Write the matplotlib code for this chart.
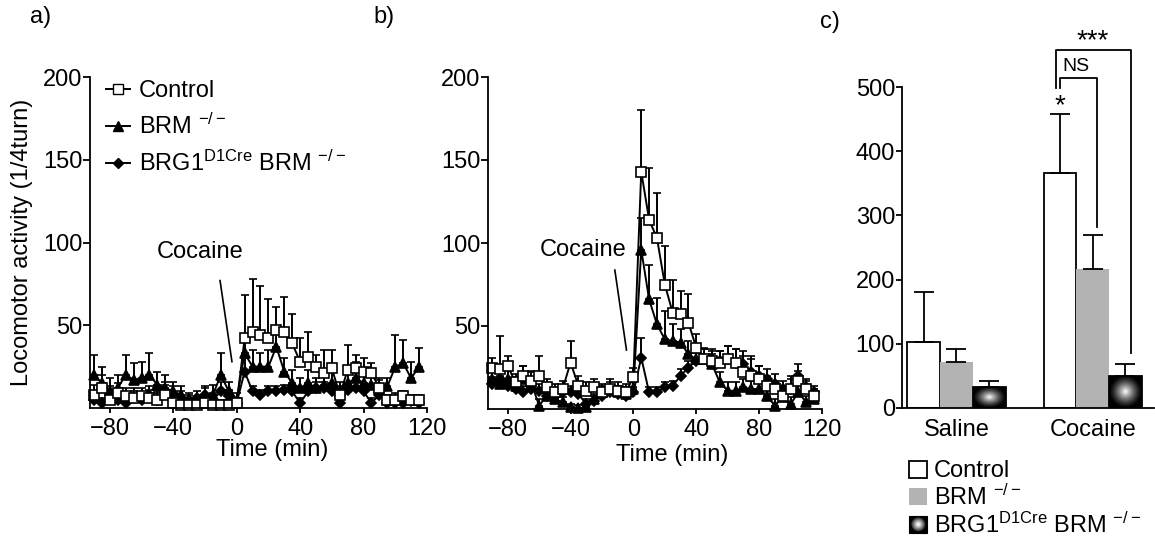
import numpy as np
import matplotlib.pyplot as plt
from matplotlib.patches import Rectangle, Circle, Patch
from matplotlib.legend_handler import HandlerBase
from matplotlib.lines import Line2D

plt.rcParams['font.family'] = ['Liberation Sans', 'DejaVu Sans']
plt.rcParams['mathtext.fontset'] = 'custom'
plt.rcParams['mathtext.rm'] = 'Liberation Sans'
plt.rcParams['font.size'] = 17
plt.rcParams['axes.linewidth'] = 1.3

# time bins (min)
times = [-90, -85, -80, -75, -70, -65, -60, -55, -50, -45, -40, -35, -30, -25,
         -20, -15, -10, -5, 0, 5, 10, 15, 20, 25, 30, 35, 40, 45, 50, 55, 60,
         65, 70, 75, 80, 85, 90, 95, 100, 105, 110, 115]

# panel a: saline
ctrl_a = [8, 12, 5, 9, 7, 6, 7, 6, 5, 8, 3, 2, 2, 2, 3, 2, 2, 2, 3,
          42, 46, 44, 42, 47, 46, 39, 28, 31, 25, 21, 24, 8, 23, 24, 22, 21, 12, 5, 5, 7, 5, 5]
ctrl_a_err = [6, 8, 5, 6, 5, 6, 5, 5, 5, 6, 4, 3, 3, 3, 3, 3, 3, 3, 3,
              26, 32, 30, 24, 14, 21, 18, 14, 15, 7, 14, 11, 5, 15, 8, 8, 6, 5, 3, 4, 3, 3, 3]
brm_a = [20, 15, 10, 12, 20, 17, 18, 20, 14, 12, 10, 8, 4, 3, 6, 8, 20, 10, 5,
         33, 25, 25, 25, 37, 22, 15, 12, 15, 12, 14, 15, 10, 15, 18, 15, 14, 12, 13, 25, 27, 18, 25]
brm_a_err = [12, 10, 8, 8, 12, 10, 10, 13, 8, 8, 6, 5, 4, 4, 6, 6, 13, 6, 4,
             12, 10, 8, 10, 8, 8, 8, 6, 8, 6, 8, 7, 6, 8, 10, 8, 8, 6, 5, 19, 14, 10, 11]
brg_a = [5, 3, 8, 5, 3, 6, 5, 8, 5, 10, 8, 6, 5, 6, 8, 5, 10, 7, 3,
         22, 10, 8, 10, 10, 11, 10, 3, 10, 12, 12, 10, 3, 11, 12, 10, 3, 8, 3, 3, 3, 4, 3]
brg_a_err = [4, 3, 5, 4, 3, 4, 4, 5, 4, 6, 5, 4, 4, 4, 5, 4, 6, 4, 3,
             8, 3, 3, 3, 3, 3, 3, 3, 3, 4, 4, 3, 3, 4, 4, 3, 3, 4, 2, 2, 2, 2, 2]

# panel b: cocaine
ctrl_b = [25, 24, 26, 16, 20, 17, 20, 13, 10, 12, 28, 14, 11, 13, 10, 12, 11, 10, 19,
          143, 114, 103, 75, 58, 57, 52, 37, 30, 29, 28, 30, 28, 22, 20, 18, 14, 12, 8, 12, 17, 12, 8]
ctrl_b_err = [6, 20, 6, 5, 6, 6, 12, 5, 5, 5, 13, 6, 5, 5, 5, 6, 5, 5, 6,
              37, 31, 27, 23, 20, 14, 17, 8, 6, 6, 7, 8, 8, 10, 12, 8, 6, 5, 5, 8, 6, 5, 4]
brm_b = [18, 15, 18, 14, 18, 16, 2, 8, 6, 4, 1, 0.5, 1, 6, 10, 12, 10, 9, 12,
         96, 66, 51, 42, 41, 40, 33, 30, 30, 27, 16, 11, 11, 13, 12, 12, 8, 2, 7, 3, 10, 4, 6]
brm_b_err = [6, 5, 6, 5, 8, 6, 4, 4, 4, 3, 2, 2, 2, 3, 4, 4, 4, 4, 5,
             19, 21, 16, 17, 10, 8, 8, 8, 6, 6, 6, 5, 5, 5, 5, 6, 5, 4, 4, 4, 6, 4, 3]
brg_b = [15, 18, 14, 12, 10, 12, 11, 8, 8, 10, 10, 9, 3, 5, 8, 10, 9, 8, 10,
         31, 10, 10, 13, 14, 20, 25, 29, 31, 30, 29, 30, 28, 27, 22, 20, 18, 15, 12, 12, 20, 13, 10]
brg_b_err = [4, 4, 4, 4, 4, 4, 4, 3, 3, 4, 4, 3, 3, 3, 4, 4, 4, 3, 3,
             12, 3, 3, 3, 3, 4, 4, 5, 6, 6, 6, 8, 8, 8, 8, 6, 6, 6, 5, 6, 7, 5, 4]

# panel c: total activity
groups = ['Saline', 'Cocaine']
ctrl_c = [103, 366]
ctrl_c_err = [77, 92]
brm_c = [72, 217]
brm_c_err = [20, 53]
brg_c = [33, 50]
brg_c_err = [9, 18]

labels = ['Control', r'BRM $\mathregular{^{-/-}}$',
          r'BRG1$\mathregular{^{D1Cre}}$ BRM $\mathregular{^{-/-}}$']

W, H = 1155, 543
fig = plt.figure(figsize=(W / 100, H / 100), dpi=100)


def px_axes(x0, y0, x1, y1):
    return fig.add_axes([x0 / W, 1 - y1 / H, (x1 - x0) / W, (y1 - y0) / H])


def time_panel(ax, ctrl, ctrl_err, brm, brm_err, brg, brg_err):
    zeros = np.zeros(len(times))
    series = [(brg, brg_err, 'D', 'black', 5.5),
              (brm, brm_err, '^', 'black', 7),
              (ctrl, ctrl_err, 's', 'white', 6.5)]
    for vals, err, m, fc, ms in series:
        ax.errorbar(times, vals, yerr=[zeros, err], fmt='-', marker=m, color='black',
                    mfc=fc, mec='black', ms=ms, mew=1.2, lw=1.4, elinewidth=1.4,
                    capsize=2.8, capthick=1.4, clip_on=False)
    ax.set_xlim(-92.5, 120)
    ax.set_ylim(0, 200)
    ax.set_xticks([-80, -40, 0, 40, 80, 120])
    ax.set_yticks([50, 100, 150, 200])
    for s in ['top', 'right']:
        ax.spines[s].set_visible(False)
    ax.tick_params(axis='y', length=5, width=1.3, pad=0.5)
    ax.tick_params(axis='x', length=3.5, width=1.3, pad=4)
    ax.set_xlabel('Time (min)')


# panel a
ax_a = px_axes(90, 77, 427, 408)
time_panel(ax_a, ctrl_a, ctrl_a_err, brm_a, brm_a_err, brg_a, brg_a_err)
ax_a.xaxis.set_label_coords(0.54, -0.095)
ax_a.set_ylabel('Locomotor activity (1/4turn)')
ax_a.yaxis.set_label_coords(-0.17, 0.5)
ax_a.text(-23, 94, 'Cocaine', ha='center', va='center')
ax_a.plot([-10.5, -3], [77, 28], color='black', lw=1.2)
handles = [Line2D([], [], color='black', lw=1.4, marker='s', mfc='white', mec='black', ms=6.5),
           Line2D([], [], color='black', lw=1.4, marker='^', mfc='black', ms=7),
           Line2D([], [], color='black', lw=1.4, marker='D', mfc='black', ms=5.5)]
ax_a.legend(handles, labels, loc='upper left', bbox_to_anchor=(0.02, 1.02),
            frameon=False, handlelength=1.0, handletextpad=0.4, labelspacing=0.5,
            borderaxespad=0)

# panel b
ax_b = px_axes(488, 77, 822, 409)
time_panel(ax_b, ctrl_b, ctrl_b_err, brm_b, brm_b_err, brg_b, brg_b_err)
ax_b.xaxis.set_label_coords(0.55, -0.105)
ax_b.text(-32, 96, 'Cocaine', ha='center', va='center')
ax_b.plot([-11.8, -4.4], [83.7, 35.5], color='black', lw=1.2)

# panel c
ax_c = px_axes(902, 87, 1154, 408)
x = np.arange(len(groups))
w = 0.24
ekw = dict(lw=1.3, capthick=1.3)
ax_c.bar(x - w, ctrl_c, w, color='white', edgecolor='black', lw=1.3,
         yerr=[[0] * 2, ctrl_c_err], capsize=7, error_kw=ekw)
ax_c.bar(x, brm_c, w, color='#b3b3b3', lw=0,
         yerr=[[0] * 2, brm_c_err], capsize=7, error_kw=ekw)
bars_brg = ax_c.bar(x + w, brg_c, w, color='none', edgecolor='black', lw=1.3,
                    yerr=[[0] * 2, brg_c_err], capsize=7, error_kw=ekw)

gy, gx = np.mgrid[-1:1:80j, -1:1:80j]
grad = np.clip(1 - np.sqrt(gx ** 2 + gy ** 2), 0, 1) ** 1.3
for rect in bars_brg:
    x0, y0 = rect.get_x(), rect.get_y()
    im = ax_c.imshow(grad, extent=(x0, x0 + rect.get_width(), y0, y0 + rect.get_height()),
                     cmap='gray', vmin=0, vmax=1, aspect='auto', zorder=0.5)
    im.set_clip_path(rect)

ax_c.set_xlim(-0.40, 1.45)
ax_c.set_ylim(0, 500)
ax_c.set_yticks([0, 100, 200, 300, 400, 500])
ax_c.set_xticks(x)
ax_c.set_xticklabels(groups)
for s in ['top', 'right']:
    ax_c.spines[s].set_visible(False)
ax_c.tick_params(axis='y', length=4, width=1.3, pad=1)
ax_c.tick_params(axis='x', length=0, pad=8)

# significance brackets
ax_c.plot([1 - w, 1 - w, 1.03, 1.03], [498, 514, 514, 282], color='black', lw=1.3, clip_on=False)
ax_c.plot([0.73, 0.73, 1.28, 1.28], [498, 557, 557, 85], color='black', lw=1.3, clip_on=False)
ax_c.text(1 - w, 470, '*', ha='center', va='center', fontsize=20)
ax_c.text(0.875, 532, 'NS', ha='center', va='center', fontsize=14)
ax_c.text(1.0, 572, '***', ha='center', va='center', fontsize=20)


class GradProxy:
    pass


class GradHandler(HandlerBase):
    def create_artists(self, legend, orig_handle, xd, yd, width, height, fontsize, trans):
        arts = [Rectangle((-xd, -yd), width, height, fc='black', ec='black', lw=0.8, transform=trans)]
        cx, cy = -xd + width / 2, -yd + height / 2
        n = 8
        for k in range(n):
            r = (1 - k / n) * width * 0.45
            arts.append(Circle((cx, cy), r, fc=str((k / (n - 1)) ** 0.8), ec='none', transform=trans))
        return arts


fig.legend([Patch(fc='white', ec='black', lw=1.3), Patch(fc='#b3b3b3'), GradProxy()], labels,
           handler_map={GradProxy: GradHandler()}, loc='upper left',
           bbox_to_anchor=(900 / W, 1 - 451 / H), frameon=False, handlelength=0.75,
           handleheight=0.75, handletextpad=0.3, labelspacing=0.1, borderaxespad=0)

fig.text(30 / W, 1 - 17 / H, 'a)', ha='left', va='center')
fig.text(373 / W, 1 - 17 / H, 'b)', ha='left', va='center')
fig.text(820 / W, 1 - 22 / H, 'c)', ha='left', va='center')

fig.savefig('out.png', dpi=100)
